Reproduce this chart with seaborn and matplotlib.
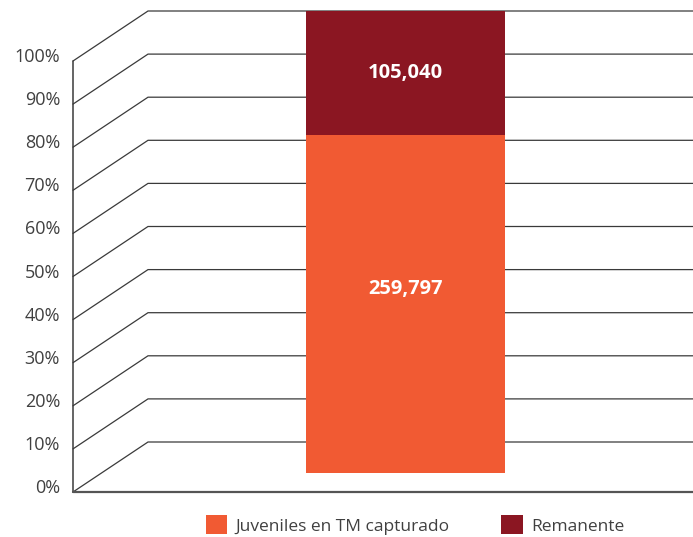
import matplotlib
matplotlib.use("Agg")
import matplotlib.pyplot as plt
import seaborn as sns
from matplotlib.patches import Patch

# data
series = ["Juveniles en TM capturado", "Remanente"]
counts = [259797, 105040]
count_labels = ["259,797", "105,040"]
tick_values = [0, 10, 20, 30, 40, 50, 60, 70, 80, 90, 100]
tick_labels = [f"{t}%" for t in tick_values]
colors = ["#F15A33", "#8B1622"]

W, H = 693, 537
total = sum(counts)
pct = [c / total * 100 for c in counts]

# perspective frame (pixels): front plane and back wall
PX_PER_PCT = 4.31
FRONT_X, BACK_X, RIGHT_X = 73, 148, 693
FRONT_Y0, BACK_Y0 = 492, 442
BAR_BOTTOM_PX = 472.7


def front_y(p):
    return FRONT_Y0 - PX_PER_PCT * p


def back_y(p):
    return BACK_Y0 - PX_PER_PCT * p


sns.set_style("white")
plt.rcParams['font.family'] = ['Open Sans', 'DejaVu Sans']

fig = plt.figure(figsize=(W / 100, H / 100), dpi=100)

# background: perspective grid in pixel coordinates
bg = fig.add_axes([0, 0, 1, 1])
bg.set_xlim(0, W)
bg.set_ylim(H, 0)
bg.axis("off")
grid_color = "#3a3a3a"
for t, lab in zip(tick_values, tick_labels):
    bg.plot([FRONT_X, BACK_X, RIGHT_X], [front_y(t), back_y(t), back_y(t)],
            color=grid_color, lw=0.9, solid_joinstyle="miter")
    bg.text(60, front_y(t) + 1, lab, ha="right", va="baseline",
            fontsize=13, color="#404040")
bg.plot([FRONT_X, FRONT_X], [front_y(0), front_y(100)], color=grid_color, lw=1.1)
bg.plot([FRONT_X, RIGHT_X], [front_y(0), front_y(0)], color="#555555", lw=1.6)

# bar axes: y in percent on the back wall scale
ax = fig.add_axes([0, 0, 1, 1], zorder=2)
ax.patch.set_alpha(0)
bar_left, bar_right = 306, 505
unit = bar_right - bar_left

cat = ["total"]
sns.barplot(x=cat, y=[pct[0] + pct[1]], color=colors[1], width=1,
            saturation=1, ax=ax)
sns.barplot(x=cat, y=[pct[0]], color=colors[0], width=1,
            saturation=1, ax=ax)
ax.set_xlim(-0.5 - bar_left / unit, 0.5 + (W - bar_right) / unit)
ax.set_ylim((BACK_Y0 - H) / PX_PER_PCT, BACK_Y0 / PX_PER_PCT)
ax.axis("off")

# front face of the bar drops down to the floor
drop = (BAR_BOTTOM_PX - BACK_Y0) / PX_PER_PCT
for p in ax.patches:
    p.set_y(-drop)
    p.set_height(p.get_height() + drop)
    p.set_linewidth(0)

# value labels centred on each segment
centers = [pct[0] / 2, pct[0] + pct[1] / 2]
for c, lab in zip(centers, count_labels):
    ax.text(0, c, lab, ha="center", va="center", color="white",
            fontsize=14.5, fontweight="bold")

# legend
handles = [Patch(facecolor=col, edgecolor="none", label=s)
           for col, s in zip(colors, series)]
fig.legend(handles=handles, loc="center", bbox_to_anchor=(415 / W, 1 - 525 / H),
           ncol=2, frameon=False, fontsize=12.5, labelcolor="#404040",
           handlelength=1.25, handleheight=1.25, handletextpad=0.45,
           columnspacing=3.0)

fig.savefig("out.png", dpi=100)
